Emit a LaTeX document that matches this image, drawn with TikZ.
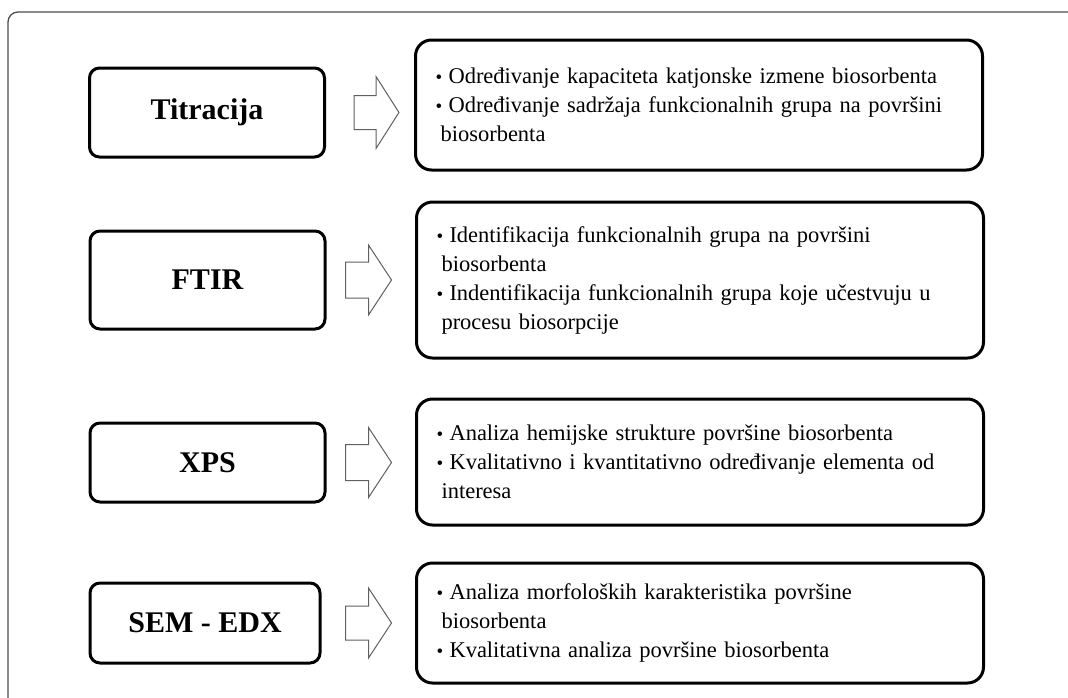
\documentclass[tikz,border=0pt]{standalone}
\usepackage{fontspec}
\setmainfont{Liberation Serif}
\usepackage{tikz,color}

\newcommand{\stavka}{\makebox[13pt][l]{\fontsize{19}{19}\selectfont\textbullet}}
\newcommand{\nastavak}{\hspace*{5pt}}
\newcommand{\opisfont}{\fontsize{22.5}{29}\selectfont\spaceskip=8pt plus 1pt minus 1pt\relax}

\tikzset{
  metoda/.style={draw, line width=3pt, rounded corners=10pt, minimum width=235pt,
    font=\fontsize{30}{36}\selectfont\bfseries},
  opis/.style={draw, line width=3pt, rounded corners=16pt, text width=527pt,
    inner xsep=20pt, align=left, font=\opisfont},
  strelica/.style={draw=gray!75!black, fill=white, line width=1pt}
}

\begin{document}
\begin{tikzpicture}[x=1pt,y=-1pt]

\useasboundingbox (0,0) rectangle (1068,697);

\draw [gray!60!black, line width=1.3pt, rounded corners=10pt] (8,720) -- (8,12) -- (1090,12);

\node [metoda, minimum height=89pt] (titracija) at (207,112.5) {Titracija};
\node [metoda, minimum height=98pt] (ftir) at (207.5,280) {FTIR};
\node [metoda, minimum height=79pt] (xps) at (207.5,462.5) {XPS};
\node [metoda, minimum height=80pt, minimum width=230pt] (semedx) at (205,623) {SEM - EDX};

\draw [strelica, shift={(titracija.east)}] (28,-17) -- (50,-17) -- (50,-36) -- (73,0) -- (50,36) -- (50,17) -- (28,17) -- cycle;
\draw [strelica, shift={(ftir.east)}] (19,-18) -- (42,-18) -- (42,-35) -- (65,0) -- (42,35) -- (42,18) -- (19,18) -- cycle;
\draw [strelica, shift={(xps.east)}] (19,-18) -- (42,-18) -- (42,-35) -- (65,0) -- (42,35) -- (42,18) -- (19,18) -- cycle;
\draw [strelica, shift={(semedx.east)}] (24,-17) -- (47,-17) -- (47,-35) -- (70,0) -- (47,35) -- (47,17) -- (24,17) -- cycle;

\node [opis, minimum height=130pt] (opis1) at (699,105)
{\stavka Određivanje kapaciteta katjonske izmene biosorbenta\\
 \stavka Određivanje sadržaja funkcionalnih grupa na površini\\
 \nastavak biosorbenta};
\node [opis, minimum height=156pt] (opis2) at (700,280)
{\stavka Identifikacija funkcionalnih grupa na površini\\
 \nastavak biosorbenta\\
 \stavka Indentifikacija funkcionalnih grupa koje učestvuju u\\
 \nastavak procesu biosorpcije};
\node [opis, minimum height=126pt] (opis3) at (700,462)
{\stavka Analiza hemijske strukture površine biosorbenta\\
 \stavka Kvalitativno i kvantitativno određivanje elementa od\\
 \nastavak interesa};
\node [opis, minimum height=120pt] (opis4) at (700,623)
{\stavka Analiza morfoloških karakteristika površine\\
 \nastavak biosorbenta\\
 \stavka Kvalitativna analiza površine biosorbenta};

\end{tikzpicture}
\end{document}
